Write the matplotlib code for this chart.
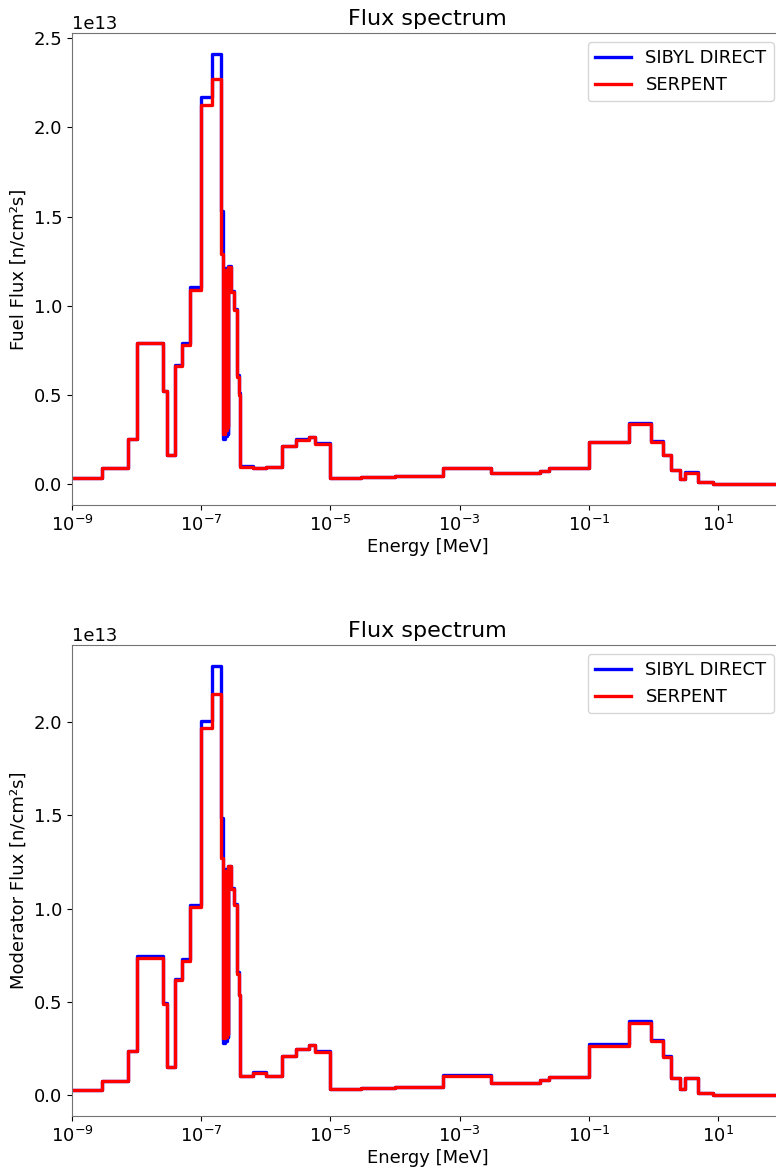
import matplotlib.pyplot as plt
from matplotlib.ticker import NullLocator

# Energy group boundaries [MeV]
edges = [1.0e-9, 2.95e-9, 7.3e-9, 1.0e-8, 2.53e-8, 3.0e-8, 3.93e-8, 5.0e-8, 6.78e-8,
         1.0e-7, 1.49e-7, 2.025e-7, 2.19e-7, 2.29e-7, 2.39e-7, 2.49e-7, 2.56e-7,
         2.63e-7, 2.86e-7, 3.23e-7, 3.55e-7, 3.89e-7, 4.0e-7, 6.26e-7, 1.0e-6,
         1.76e-6, 2.95e-6, 4.7e-6, 5.8e-6, 1.0e-5, 3.0e-5, 1.0e-4, 5.47e-4,
         3.06e-3, 1.76e-2, 2.45e-2, 0.1, 0.414, 0.918, 1.39, 1.87, 2.52, 3.01,
         4.85, 8.28, 100.0]

# Fuel flux (x 1e13)
fuel_sibyl = [0.035, 0.088, 0.25, 0.79, 0.52, 0.163, 0.67, 0.79, 1.105,
              2.17, 2.41, 1.53, 0.25, 1.21, 0.27, 1.21, 0.28,
              1.22, 1.08, 0.98, 0.61, 0.51, 0.10, 0.09, 0.095,
              0.21, 0.25, 0.265, 0.228, 0.035, 0.039, 0.043, 0.09,
              0.06, 0.075, 0.088, 0.237, 0.34, 0.24, 0.163, 0.078, 0.028, 0.066,
              0.0095, 0.002]
fuel_serpent = [0.035, 0.088, 0.25, 0.79, 0.52, 0.163, 0.66, 0.78, 1.09,
                2.125, 2.27, 1.29, 0.28, 1.2, 0.3, 1.2, 0.32,
                1.215, 1.075, 0.975, 0.60, 0.50, 0.097, 0.088, 0.095,
                0.21, 0.248, 0.262, 0.224, 0.035, 0.039, 0.043, 0.09,
                0.06, 0.075, 0.088, 0.234, 0.335, 0.237, 0.16, 0.078, 0.028, 0.063,
                0.0095, 0.002]

# Moderator flux (x 1e13)
mod_sibyl = [0.027, 0.077, 0.24, 0.747, 0.495, 0.152, 0.625, 0.728, 1.019,
             2.007, 2.297, 1.487, 0.28, 1.21, 0.29, 1.21, 0.31,
             1.23, 1.11, 1.025, 0.66, 0.54, 0.105, 0.125, 0.105,
             0.213, 0.25, 0.272, 0.236, 0.036, 0.039, 0.045, 0.107,
             0.066, 0.083, 0.10, 0.273, 0.397, 0.298, 0.211, 0.095, 0.032, 0.093,
             0.011, 0.004]
mod_serpent = [0.027, 0.077, 0.236, 0.733, 0.488, 0.152, 0.617, 0.718, 1.006,
               1.966, 2.148, 1.273, 0.305, 1.2, 0.31, 1.2, 0.33,
               1.228, 1.103, 1.019, 0.652, 0.536, 0.102, 0.12, 0.102,
               0.209, 0.247, 0.268, 0.232, 0.036, 0.039, 0.045, 0.102,
               0.066, 0.08, 0.097, 0.266, 0.39, 0.291, 0.206, 0.095, 0.032, 0.093,
               0.011, 0.004]

xticks = [1e-9, 1e-7, 1e-5, 1e-3, 1e-1, 1e1]

fig = plt.figure(figsize=(7.76, 11.69), dpi=100)
ax1 = fig.add_axes([0.0928, 0.568, 0.916, 0.4038])
ax2 = fig.add_axes([0.0928, 0.0453, 0.916, 0.403])

panels = [(ax1, fuel_sibyl, fuel_serpent, 'Fuel Flux [n/cm²s]'),
          (ax2, mod_sibyl, mod_serpent, 'Moderator Flux [n/cm²s]')]

for ax, sib, ser, ylab in panels:
    ax.step(edges, [v * 1e13 for v in sib] + [sib[-1] * 1e13], where='post',
            color='b', lw=2.4, label='SIBYL DIRECT')
    ax.step(edges, [v * 1e13 for v in ser] + [ser[-1] * 1e13], where='post',
            color='r', lw=2.4, label='SERPENT')
    ax.set_xscale('log')
    ax.set_xlim(1e-9, 1e2)
    ax.set_xticks(xticks)
    ax.xaxis.set_minor_locator(NullLocator())
    ax.set_title('Flux spectrum', fontsize=16)
    ax.set_xlabel('Energy [MeV]', fontsize=13, labelpad=2)
    ax.set_ylabel(ylab, fontsize=13)
    ax.tick_params(labelsize=13)
    ax.yaxis.get_offset_text().set_fontsize(13)
    for s in ax.spines.values():
        s.set_color('0.45')
    ax.legend(loc='upper right', fontsize=13)

fig.savefig('out.png', dpi=100)
